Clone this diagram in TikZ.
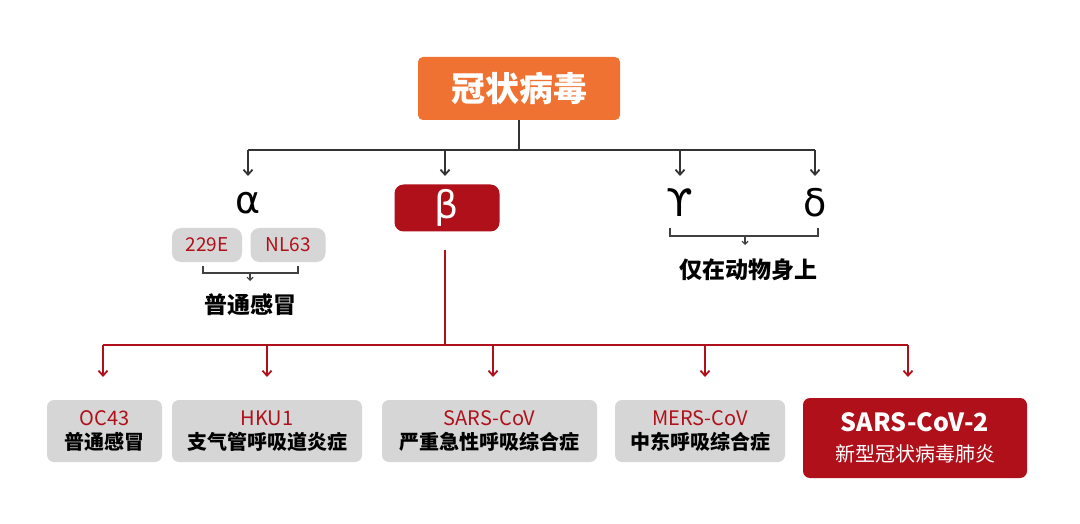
\documentclass[tikz,border=0pt]{standalone}
\usepackage{fontspec}
\setmainfont{Noto Sans CJK SC}
\newfontfamily\greekfont{DejaVu Sans}
\usetikzlibrary{arrows.meta}
\definecolor{cvorange}{HTML}{F07232}
\definecolor{cvred}{HTML}{B0101A}
\definecolor{cvgray}{HTML}{D6D6D6}
\tikzset{
    >={Straight Barb[length=5pt,width=9pt]},
    top/.style={rounded corners=5pt, fill=cvorange, text=white, font=\fontsize{34}{34}\selectfont\bfseries, minimum width=202pt, minimum height=63pt},
    greek/.style={font=\greekfont\fontsize{38}{38}\selectfont},
    tag/.style={rounded corners=9pt, fill=cvgray, text=cvred, font=\fontsize{19}{19}\selectfont, minimum height=34pt, inner sep=2pt},
    leaf/.style={rounded corners=7pt, fill=cvgray, align=center, font=\fontsize{20}{24}\selectfont, minimum height=62pt},
    note/.style={font=\fontsize{23}{23}\selectfont\bfseries},
    bk/.style={line width=1.8pt, black!80},
    rd/.style={line width=1.8pt, cvred},
}

\begin{document}
\begin{tikzpicture}[x=1pt,y=-1pt]
   \useasboundingbox[fill=white] (0,0) rectangle (1080,524);
   \node[top] (cv) at (519,88.5) {冠状病毒};
   \node[greek] (alpha) at (248,203) {α};
   \node[rounded corners=9pt, fill=cvred, text=white, greek, minimum width=105pt, minimum height=47pt, inner sep=0pt] (beta) at (447,208) {β};
   \node[greek] (gamma) at (680,203) {ϒ};
   \node[greek] (delta) at (815,203) {δ};
   \node[tag, minimum width=70pt] (e229) at (207,245) {229E};
   \node[tag, minimum width=75pt] (nl63) at (288,245) {NL63};
   \node[note] (cold) at (250,305) {普通感冒};
   \node[note] (animal) at (748,270) {仅在动物身上};
   % black branch
   \coordinate (j) at (519,150);
   \draw[bk] (cv.south) -- (j);
   \draw[bk] (248,150) -- (815,150);
   \foreach \x/\n in {248/alpha,445/beta,680/gamma,815/delta}
      \draw[bk,->] (\x,150) -- (\x,176);
   % brackets
   \draw[line width=1.3pt, black!75] (203,266) -- (203,273) -- (298,273) -- (298,266);
   \draw[line width=1.1pt, black!75, -{Straight Barb[length=3pt,width=6pt]}] (250,273) -- (250,281);
   \draw[line width=1.3pt, black!75] (670,228) -- (670,236) -- (818,236) -- (818,228);
   \draw[line width=1.1pt, black!75, -{Straight Barb[length=3pt,width=6pt]}] (745,236) -- (745,245);
   % leaves
   \node[leaf, minimum width=115pt] (oc) at (104.5,431) {\textcolor{cvred}{OC43}\\\bfseries 普通感冒};
   \node[leaf, minimum width=190pt] (hku) at (267,431) {\textcolor{cvred}{HKU1}\\\bfseries 支气管呼吸道炎症};
   \node[leaf, minimum width=215pt] (sars) at (489.5,431) {\textcolor{cvred}{SARS-CoV}\\\bfseries 严重急性呼吸综合症};
   \node[leaf, minimum width=170pt] (mers) at (700,431) {\textcolor{cvred}{MERS-CoV}\\\bfseries 中东呼吸综合症};
   \node[leaf, fill=cvred, text=white, minimum width=224pt, minimum height=80pt, font=\fontsize{20}{30}\selectfont] (sars2) at (915,438) {{\fontsize{25}{25}\selectfont\bfseries SARS-CoV-2}\\新型冠状病毒肺炎};
   % red branch
   \draw[rd] (445,250) -- (445,345);
   \draw[rd] (103,345) -- (908,345);
   \foreach \x in {103,267,493,705,908}
      \draw[rd,->] (\x,345) -- (\x,377);
\end{tikzpicture}
\end{document}
